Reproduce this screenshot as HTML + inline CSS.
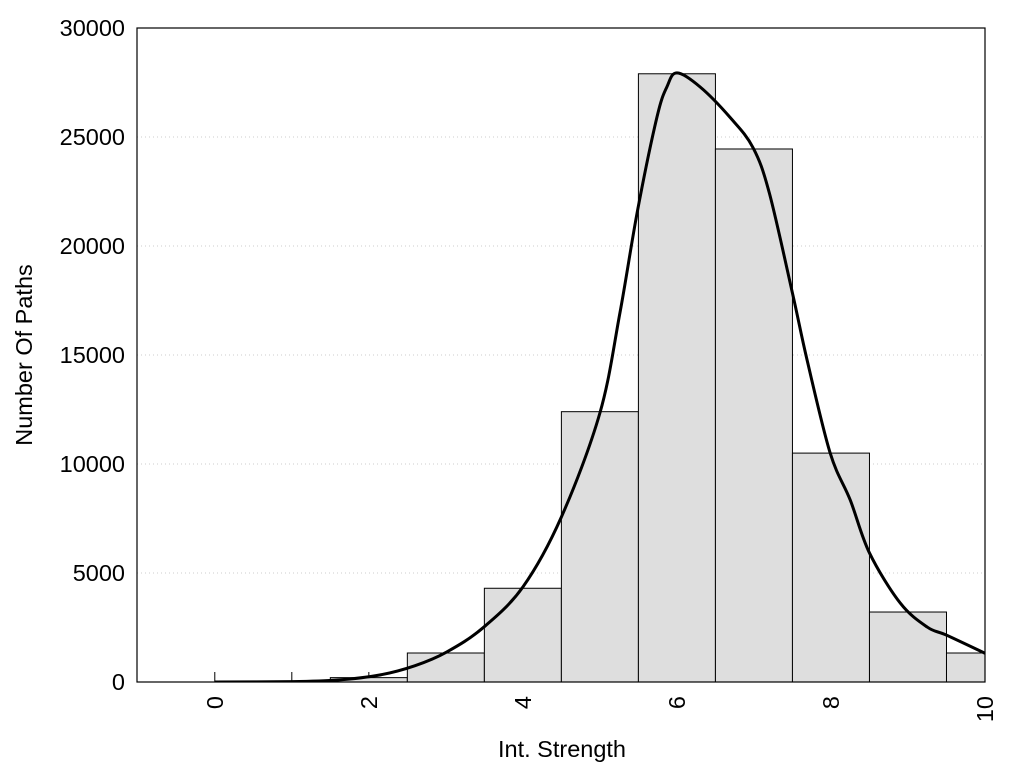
<!DOCTYPE html>
<html><head><meta charset="utf-8"><style>body{margin:0;background:#fff}svg text{font-family:"Liberation Sans",sans-serif;fill:#000}</style></head>
<body>
<svg id="chart" width="1024" height="768" viewBox="0 0 1024 768"></svg>
<script>
const binCenters=[0,1,2,3,4,5,6,7,8,9,10];
const binCounts=[0,0,200,1330,4300,12400,27900,24450,10500,3210,1330];
const curveX=[0,1,1.6,2.14,2.6,3.01,3.48,4.0,4.5,5.0,5.26,5.49,5.74,5.87,6.0,6.3,6.69,6.99,7.2,7.5,7.69,7.99,8.25,8.5,8.9,9.25,9.5,10];
const curveY=[0,15,90,320,750,1375,2480,4360,7570,12340,16930,21650,25900,27300,27940,27300,25900,24500,22430,17840,14770,10500,8350,5920,3620,2520,2150,1320];
const yTicks=[0,5000,10000,15000,20000,25000,30000];
const xTickLabels=[0,2,4,6,8,10];
const L=137,R=985,T=28,B=682,xmin=-1.01,xmax=10,ymax=30000;
const sx=v=>L+(v-xmin)/(xmax-xmin)*(R-L), sy=v=>B-v/ymax*(B-T);
const svg=document.getElementById('chart');const NS='http://www.w3.org/2000/svg';
function mk(t,a,p){const e=document.createElementNS(NS,t);for(const k in a)e.setAttribute(k,a[k]);(p||svg).appendChild(e);return e;}
const defs=mk('defs',{});const cp=mk('clipPath',{id:'c'},defs);mk('rect',{x:L,y:T,width:R-L,height:B-T},cp);
yTicks.forEach(v=>{if(v>0&&v<ymax){const g=mk('line',{x1:L,x2:R,y1:sy(v),y2:sy(v),stroke:'#ccc','stroke-dasharray':'1,3'});

}
const t=mk('text',{x:L-12,y:sy(v)+8,'text-anchor':'end','font-size':'23.5'});t.textContent=v;

});
binCenters.forEach(c=>{const tk=mk('line',{x1:sx(c),x2:sx(c),y1:B,y2:B-10,stroke:'#000'});

});
const bg=mk('g',{'clip-path':'url(#c)'});
binCenters.forEach((c,i)=>{const h=binCounts[i];if(h<=0)return;const r=mk('rect',{x:sx(c-0.5),y:sy(h),width:sx(c+0.5)-sx(c-0.5),height:B-sy(h),fill:'#dedede',stroke:'#000','stroke-width':'1'},bg);

});
const P=curveX.map((x,i)=>[sx(x),sy(curveY[i])]);
let d='M'+P[0][0]+','+P[0][1];
for(let i=0;i<P.length-1;i++){const p0=P[Math.max(0,i-1)],p1=P[i],p2=P[i+1],p3=P[Math.min(P.length-1,i+2)];
d+=' C'+(p1[0]+(p2[0]-p0[0])/6)+','+(p1[1]+(p2[1]-p0[1])/6)+' '+(p2[0]-(p3[0]-p1[0])/6)+','+(p2[1]-(p3[1]-p1[1])/6)+' '+p2[0]+','+p2[1];}
const cv=mk('path',{d:d,fill:'none',stroke:'#000','stroke-width':'3'},bg);


const fr=mk('rect',{x:L,y:T,width:R-L,height:B-T,fill:'none',stroke:'#000','stroke-width':'1.2'});


xTickLabels.forEach(v=>{const t=mk('text',{transform:'translate('+(sx(v)+8)+','+(B+14)+') rotate(-90)','text-anchor':'end','font-size':'23.5'});t.textContent=v;

});
const xt=mk('text',{x:562,y:757,'text-anchor':'middle','font-size':'23.5'});xt.textContent='Int. Strength';


const yt=mk('text',{transform:'translate(32,355) rotate(-90)','text-anchor':'middle','font-size':'23.5'});yt.textContent='Number Of Paths';


</script>
</body></html>
